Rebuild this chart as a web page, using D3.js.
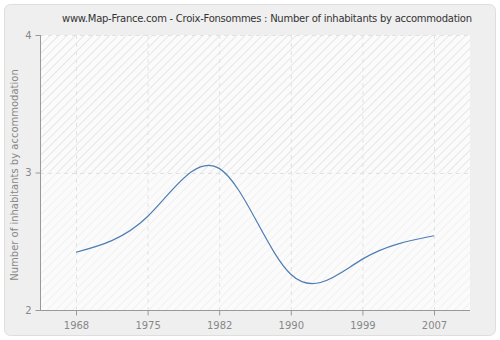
<!DOCTYPE html>
<html><head><meta charset="utf-8">
<script src="https://cdn.jsdelivr.net/npm/d3@7"></script>
<style>body{margin:0;background:#fff}</style>
</head><body>
<script>
const years = ["1968","1975","1982","1990","1999","2007"];
const values = [2.42, 2.68, 3.03, 2.26, 2.37, 2.54];
const yTicks = [2, 3, 4];
const title = "www.Map-France.com - Croix-Fonsommes : Number of inhabitants by accommodation";
const yLabel = "Number of inhabitants by accommodation";

const W = 500, H = 340;
const svg = d3.select("body").append("svg").attr("width", W).attr("height", H);
const font = "DejaVu Sans, Verdana, sans-serif";

svg.append("rect").attr("x", 4.5).attr("y", 4.5).attr("width", 491).attr("height", 331)
  .attr("rx", 6).attr("fill", "#efefef").attr("stroke", "#dedede");

const defs = svg.append("defs");
const p1 = defs.append("pattern").attr("id", "h1").attr("patternUnits", "userSpaceOnUse")
  .attr("width", 6).attr("height", 6).attr("patternTransform", "rotate(45)");
p1.append("rect").attr("width", 6).attr("height", 6).attr("fill", "#fbfbfb");
p1.append("line").attr("x1", 0).attr("y1", 0).attr("x2", 0).attr("y2", 6).attr("stroke", "#e6e6e6").attr("stroke-width", 2);
const p2 = defs.append("pattern").attr("id", "h2").attr("patternUnits", "userSpaceOnUse")
  .attr("width", 6).attr("height", 6).attr("patternTransform", "rotate(45)");
p2.append("rect").attr("width", 6).attr("height", 6).attr("fill", "#fbfbfb");
p2.append("line").attr("x1", 0).attr("y1", 0).attr("x2", 0).attr("y2", 6).attr("stroke", "#f1f1f1").attr("stroke-width", 2);

const x = d3.scalePoint().domain(years).range([76, 434]);
const y = d3.scaleLinear().domain([2, 4]).range([310, 35]);

svg.append("rect").attr("x", 40).attr("y", 35).attr("width", 430).attr("height", y(3) - 35).attr("fill", "url(#h1)");
svg.append("rect").attr("x", 40).attr("y", y(3)).attr("width", 430).attr("height", 310 - y(3)).attr("fill", "url(#h2)");

// grid
svg.append("g").selectAll("line").data(years).join("line")
  .attr("x1", d => x(d) + 0.5).attr("x2", d => x(d) + 0.5).attr("y1", 35).attr("y2", 310)
  .attr("stroke", "#e2e2e2").attr("stroke-dasharray", "4,4");
svg.append("g").selectAll("line").data(yTicks.slice(1)).join("line")
  .attr("x1", 40).attr("x2", 470).attr("y1", d => Math.round(y(d)) + 0.5).attr("y2", d => Math.round(y(d)) + 0.5)
  .attr("stroke", "#e2e2e2").attr("stroke-dasharray", "4,4");

// line
const line = d3.line().x((d, i) => x(years[i])).y(d => y(d)).curve(d3.curveNatural);
svg.append("path").datum(values).attr("d", line).attr("fill", "none")
  .attr("stroke", "#4f7db3").attr("stroke-width", 1.2);

// axes
const ya = svg.append("g").attr("transform", "translate(40.5,0)")
  .call(d3.axisLeft(y).tickValues(yTicks).tickSize(5).tickPadding(4).tickFormat(d3.format("d")));
const xa = svg.append("g").attr("transform", "translate(0,310.5)")
  .call(d3.axisBottom(x).tickSize(5).tickPadding(6));
[ya, xa].forEach(a => {
  a.select(".domain").attr("stroke", "#999");
  a.selectAll(".tick line").attr("stroke", "#999");
  a.selectAll("text").attr("fill", "#888").attr("font-family", font).attr("font-size", 10);
});
xa.select(".domain").attr("d", "M40,0H470");
ya.select(".domain").attr("d", "M0,35V310");

svg.append("text").attr("x", 267).attr("y", 22).attr("text-anchor", "middle")
  .attr("font-family", font).attr("font-size", 10).attr("fill", "#333")
  .attr("textLength", 410).attr("lengthAdjust", "spacing").text(title);
svg.append("text").attr("transform", "translate(17.5,175) rotate(-90)").attr("text-anchor", "middle")
  .attr("font-family", font).attr("font-size", 10).attr("fill", "#888").text(yLabel);
</script>
</body></html>
